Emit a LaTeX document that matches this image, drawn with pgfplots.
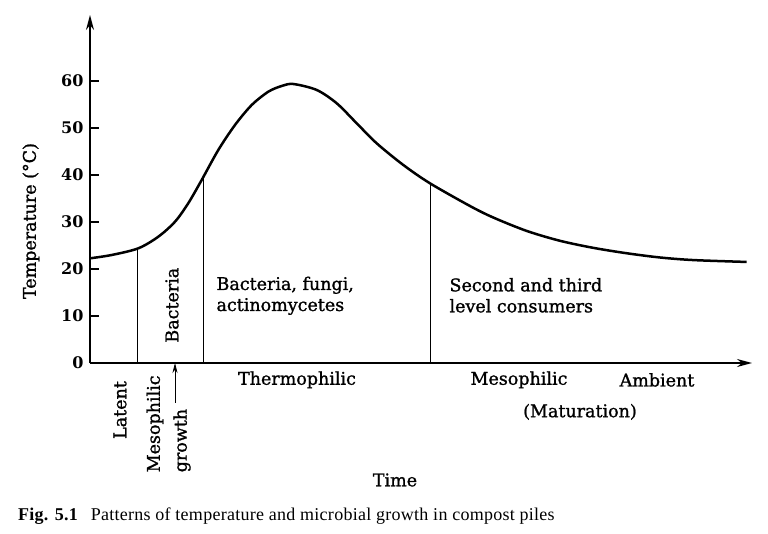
\documentclass[border=0pt]{standalone}
\usepackage{fontspec}
\setmainfont{DejaVu Serif}
\newfontfamily\chartfont{DejaVu Serif}[FakeBold=1.2]
\newfontfamily\capfont{Liberation Serif}[LetterSpace=1.5]
\usepackage{pgfplots}
\pgfplotsset{compat=1.18}
\usetikzlibrary{arrows.meta}

\newcommand{\lbl}{\chartfont\fontsize{17.5}{21}\selectfont}

\begin{document}
\begin{tikzpicture}
\path[use as bounding box] (-90pt,-170pt) rectangle (678pt,363pt);
\begin{axis}[scale only axis, width=662pt, height=348pt,
  at={(0,0)}, anchor=south west,
  xmin=0, xmax=66.2, ymin=0, ymax=74.04,
  axis lines=left,
  axis line style={line width=1.5pt, -{Stealth[length=15pt,width=8pt]}},
  xtick=\empty, ytick={0,10,...,60}, yticklabels={0,10,20,30,40,50,60},
  tick align=inside, major tick length=9pt,
  tick style={line width=1.2pt, black},
  yticklabel style={font=\fontsize{16}{18}\selectfont\bfseries, xshift=-3pt},
  clip=false]

% temperature curve
\addplot[line width=2.5pt, smooth, tension=0.5] coordinates {
  (0,22.27) (2.17,22.98) (4.83,24.40) (6.83,26.87) (8.5,30.06) (9.83,34.0)
  (11.17,38.94) (12.83,45.32) (14.5,50.64) (16.17,54.89) (17.83,57.72)
  (19.17,58.94) (20.33,59.36) (22.67,58.09) (24.67,55.26) (26.67,51.0)
  (28.67,46.74) (31.33,42.13) (34,38.23) (38,33.4) (40.33,30.95)
  (43.67,28.1) (47,26.0) (50.33,24.5) (53.67,23.35) (57,22.45)
  (60.33,21.9) (65.67,21.5)};

% phase boundaries
\addplot[line width=0.8pt] coordinates {(4.7,0) (4.7,24.3)};
\addplot[line width=0.8pt] coordinates {(11.3,0) (11.3,39.3)};
\addplot[line width=0.8pt] coordinates {(34,0) (34,38.2)};

\node[rotate=90, font=\lbl] at (axis cs:-5.9,30.2) {Temperature (°C)};
\node[rotate=90, font=\lbl] at (axis cs:8.2,12.3) {Bacteria};
\node[anchor=west, align=left, font=\lbl] at (axis cs:12.3,14.3) {Bacteria, fungi,\\actinomycetes};
\node[anchor=west, align=left, font=\lbl] at (axis cs:35.6,14.4) {Second and third\\level consumers};

\node[font=\lbl] at (axis cs:20.7,-3.6) {Thermophilic};
\node[rotate=90, font=\lbl] at (axis cs:3.0,-10) {Latent};
\node[rotate=90, anchor=west, font=\lbl] at (axis cs:6.5,-24.0) {Mesophilic};
\node[rotate=90, anchor=west, font=\lbl] at (axis cs:9.2,-24.0) {growth};
\draw[line width=0.8pt, -{Stealth[length=10pt,width=5pt]}] (axis cs:8.5,-8.5) -- (axis cs:8.5,0);
\node[font=\lbl] at (axis cs:42.9,-3.6) {Mesophilic};
\node[font=\lbl] at (axis cs:56.7,-3.6) {Ambient};
\node[font=\lbl] at (axis cs:49,-10.4) {(Maturation)};
\node[font=\lbl] at (axis cs:30.5,-24.9) {Time};
\end{axis}
\node[anchor=base west, inner sep=0pt, font=\capfont\fontsize{18}{20}\selectfont]
  at (-72pt,-157pt) {\textbf{Fig. 5.1}\hspace{0.7em}Patterns of temperature and microbial growth in compost piles};
\end{tikzpicture}
\end{document}
